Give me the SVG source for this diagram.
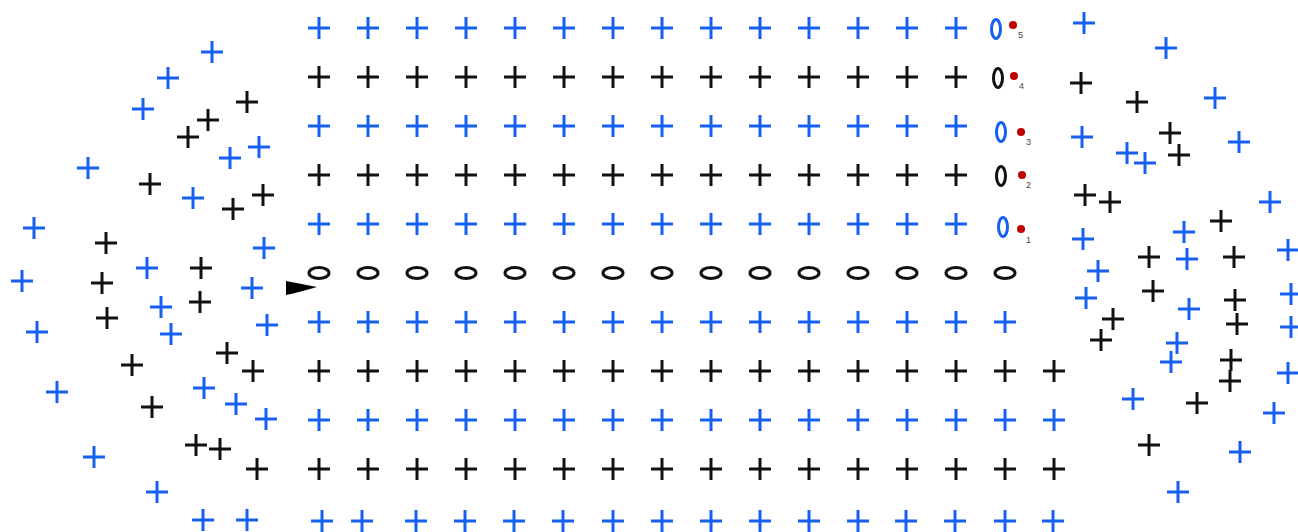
<svg xmlns="http://www.w3.org/2000/svg" xmlns:xlink="http://www.w3.org/1999/xlink" width="1298" height="532" viewBox="0 0 1298 532">
<defs>
<style>
.b{stroke:#1560f0;fill:none;stroke-width:3}
.k{stroke:#111;fill:none;stroke-width:3}
.e{fill:none;stroke-width:3}
.eb{stroke:#1560f0}
.ek{stroke:#111}
.dot{fill:#c00000}
.lbl{font-family:"Liberation Sans",Arial,sans-serif;font-size:9px;fill:#444}
</style>
<path id="p" d="M-11 0H11M0-11V11"/>
<ellipse id="ev" rx="4.5" ry="9.5"/>
<ellipse id="eh" rx="10" ry="5.5"/>
</defs>
<rect width="1298" height="532" fill="#fff"/>
<g id="grid">
<g class="b">
<use xlink:href="#p" x="319" y="28"/><use xlink:href="#p" x="368" y="28"/><use xlink:href="#p" x="417" y="28"/><use xlink:href="#p" x="466" y="28"/><use xlink:href="#p" x="515" y="28"/><use xlink:href="#p" x="564" y="28"/><use xlink:href="#p" x="613" y="28"/><use xlink:href="#p" x="662" y="28"/><use xlink:href="#p" x="711" y="28"/><use xlink:href="#p" x="760" y="28"/><use xlink:href="#p" x="809" y="28"/><use xlink:href="#p" x="858" y="28"/><use xlink:href="#p" x="907" y="28"/><use xlink:href="#p" x="956" y="28"/>
</g>
<g class="k">
<use xlink:href="#p" x="319" y="77"/><use xlink:href="#p" x="368" y="77"/><use xlink:href="#p" x="417" y="77"/><use xlink:href="#p" x="466" y="77"/><use xlink:href="#p" x="515" y="77"/><use xlink:href="#p" x="564" y="77"/><use xlink:href="#p" x="613" y="77"/><use xlink:href="#p" x="662" y="77"/><use xlink:href="#p" x="711" y="77"/><use xlink:href="#p" x="760" y="77"/><use xlink:href="#p" x="809" y="77"/><use xlink:href="#p" x="858" y="77"/><use xlink:href="#p" x="907" y="77"/><use xlink:href="#p" x="956" y="77"/>
</g>
<g class="b">
<use xlink:href="#p" x="319" y="126"/><use xlink:href="#p" x="368" y="126"/><use xlink:href="#p" x="417" y="126"/><use xlink:href="#p" x="466" y="126"/><use xlink:href="#p" x="515" y="126"/><use xlink:href="#p" x="564" y="126"/><use xlink:href="#p" x="613" y="126"/><use xlink:href="#p" x="662" y="126"/><use xlink:href="#p" x="711" y="126"/><use xlink:href="#p" x="760" y="126"/><use xlink:href="#p" x="809" y="126"/><use xlink:href="#p" x="858" y="126"/><use xlink:href="#p" x="907" y="126"/><use xlink:href="#p" x="956" y="126"/>
</g>
<g class="k">
<use xlink:href="#p" x="319" y="175"/><use xlink:href="#p" x="368" y="175"/><use xlink:href="#p" x="417" y="175"/><use xlink:href="#p" x="466" y="175"/><use xlink:href="#p" x="515" y="175"/><use xlink:href="#p" x="564" y="175"/><use xlink:href="#p" x="613" y="175"/><use xlink:href="#p" x="662" y="175"/><use xlink:href="#p" x="711" y="175"/><use xlink:href="#p" x="760" y="175"/><use xlink:href="#p" x="809" y="175"/><use xlink:href="#p" x="858" y="175"/><use xlink:href="#p" x="907" y="175"/><use xlink:href="#p" x="956" y="175"/>
</g>
<g class="b">
<use xlink:href="#p" x="319" y="224"/><use xlink:href="#p" x="368" y="224"/><use xlink:href="#p" x="417" y="224"/><use xlink:href="#p" x="466" y="224"/><use xlink:href="#p" x="515" y="224"/><use xlink:href="#p" x="564" y="224"/><use xlink:href="#p" x="613" y="224"/><use xlink:href="#p" x="662" y="224"/><use xlink:href="#p" x="711" y="224"/><use xlink:href="#p" x="760" y="224"/><use xlink:href="#p" x="809" y="224"/><use xlink:href="#p" x="858" y="224"/><use xlink:href="#p" x="907" y="224"/><use xlink:href="#p" x="956" y="224"/>
</g>
<g class="e ek">
<use xlink:href="#eh" x="319" y="273"/><use xlink:href="#eh" x="368" y="273"/><use xlink:href="#eh" x="417" y="273"/><use xlink:href="#eh" x="466" y="273"/><use xlink:href="#eh" x="515" y="273"/><use xlink:href="#eh" x="564" y="273"/><use xlink:href="#eh" x="613" y="273"/><use xlink:href="#eh" x="662" y="273"/><use xlink:href="#eh" x="711" y="273"/><use xlink:href="#eh" x="760" y="273"/><use xlink:href="#eh" x="809" y="273"/><use xlink:href="#eh" x="858" y="273"/><use xlink:href="#eh" x="907" y="273"/><use xlink:href="#eh" x="956" y="273"/><use xlink:href="#eh" x="1005" y="273"/>
</g>
<g class="b">
<use xlink:href="#p" x="319" y="322"/><use xlink:href="#p" x="368" y="322"/><use xlink:href="#p" x="417" y="322"/><use xlink:href="#p" x="466" y="322"/><use xlink:href="#p" x="515" y="322"/><use xlink:href="#p" x="564" y="322"/><use xlink:href="#p" x="613" y="322"/><use xlink:href="#p" x="662" y="322"/><use xlink:href="#p" x="711" y="322"/><use xlink:href="#p" x="760" y="322"/><use xlink:href="#p" x="809" y="322"/><use xlink:href="#p" x="858" y="322"/><use xlink:href="#p" x="907" y="322"/><use xlink:href="#p" x="956" y="322"/><use xlink:href="#p" x="1005" y="322"/>
</g>
<g class="k">
<use xlink:href="#p" x="319" y="371"/><use xlink:href="#p" x="368" y="371"/><use xlink:href="#p" x="417" y="371"/><use xlink:href="#p" x="466" y="371"/><use xlink:href="#p" x="515" y="371"/><use xlink:href="#p" x="564" y="371"/><use xlink:href="#p" x="613" y="371"/><use xlink:href="#p" x="662" y="371"/><use xlink:href="#p" x="711" y="371"/><use xlink:href="#p" x="760" y="371"/><use xlink:href="#p" x="809" y="371"/><use xlink:href="#p" x="858" y="371"/><use xlink:href="#p" x="907" y="371"/><use xlink:href="#p" x="956" y="371"/><use xlink:href="#p" x="1005" y="371"/><use xlink:href="#p" x="1054" y="371"/>
</g>
<g class="b">
<use xlink:href="#p" x="319" y="420"/><use xlink:href="#p" x="368" y="420"/><use xlink:href="#p" x="417" y="420"/><use xlink:href="#p" x="466" y="420"/><use xlink:href="#p" x="515" y="420"/><use xlink:href="#p" x="564" y="420"/><use xlink:href="#p" x="613" y="420"/><use xlink:href="#p" x="662" y="420"/><use xlink:href="#p" x="711" y="420"/><use xlink:href="#p" x="760" y="420"/><use xlink:href="#p" x="809" y="420"/><use xlink:href="#p" x="858" y="420"/><use xlink:href="#p" x="907" y="420"/><use xlink:href="#p" x="956" y="420"/><use xlink:href="#p" x="1005" y="420"/><use xlink:href="#p" x="1054" y="420"/>
</g>
<g class="k">
<use xlink:href="#p" x="319" y="469"/><use xlink:href="#p" x="368" y="469"/><use xlink:href="#p" x="417" y="469"/><use xlink:href="#p" x="466" y="469"/><use xlink:href="#p" x="515" y="469"/><use xlink:href="#p" x="564" y="469"/><use xlink:href="#p" x="613" y="469"/><use xlink:href="#p" x="662" y="469"/><use xlink:href="#p" x="711" y="469"/><use xlink:href="#p" x="760" y="469"/><use xlink:href="#p" x="809" y="469"/><use xlink:href="#p" x="858" y="469"/><use xlink:href="#p" x="907" y="469"/><use xlink:href="#p" x="956" y="469"/><use xlink:href="#p" x="1005" y="469"/><use xlink:href="#p" x="1054" y="469"/>
</g>
<g class="b">
<use xlink:href="#p" x="322" y="521"/><use xlink:href="#p" x="362" y="521"/><use xlink:href="#p" x="416" y="521"/><use xlink:href="#p" x="465" y="521"/><use xlink:href="#p" x="514" y="521"/><use xlink:href="#p" x="563" y="521"/><use xlink:href="#p" x="613" y="521"/><use xlink:href="#p" x="662" y="521"/><use xlink:href="#p" x="711" y="521"/><use xlink:href="#p" x="760" y="521"/><use xlink:href="#p" x="809" y="521"/><use xlink:href="#p" x="858" y="521"/><use xlink:href="#p" x="906" y="521"/><use xlink:href="#p" x="955" y="521"/><use xlink:href="#p" x="1005" y="521"/><use xlink:href="#p" x="1053" y="521"/>
</g>
</g>
<g id="markers">
<use xlink:href="#ev" class="e eb" x="996" y="29"/>
<use xlink:href="#ev" class="e ek" x="998" y="78"/>
<use xlink:href="#ev" class="e eb" x="1001" y="132"/>
<use xlink:href="#ev" class="e ek" x="1001" y="176"/>
<use xlink:href="#ev" class="e eb" x="1003" y="227"/>
<circle class="dot" cx="1013" cy="25" r="4"/>
<circle class="dot" cx="1014" cy="76" r="4"/>
<circle class="dot" cx="1021" cy="132" r="4"/>
<circle class="dot" cx="1022" cy="175" r="4"/>
<circle class="dot" cx="1021" cy="229" r="4"/>
<text class="lbl" x="1018" y="38">5</text>
<text class="lbl" x="1019" y="89">4</text>
<text class="lbl" x="1026" y="145">3</text>
<text class="lbl" x="1026" y="188">2</text>
<text class="lbl" x="1026" y="243">1</text>
<path d="M286,281 L317,287 Q300,292 286,295 Z" fill="#000"/>
</g>
<g id="left-scatter">
<g class="b">
<use xlink:href="#p" x="212" y="52"/><use xlink:href="#p" x="168" y="78"/><use xlink:href="#p" x="143" y="109"/><use xlink:href="#p" x="259" y="147"/><use xlink:href="#p" x="230" y="158"/><use xlink:href="#p" x="88" y="168"/><use xlink:href="#p" x="193" y="198"/><use xlink:href="#p" x="34" y="228"/><use xlink:href="#p" x="264" y="248"/><use xlink:href="#p" x="147" y="268"/><use xlink:href="#p" x="22" y="281"/><use xlink:href="#p" x="252" y="288"/><use xlink:href="#p" x="161" y="307"/><use xlink:href="#p" x="267" y="325"/><use xlink:href="#p" x="37" y="332"/><use xlink:href="#p" x="171" y="334"/><use xlink:href="#p" x="57" y="392"/><use xlink:href="#p" x="204" y="388"/><use xlink:href="#p" x="236" y="404"/><use xlink:href="#p" x="266" y="419"/><use xlink:href="#p" x="94" y="457"/><use xlink:href="#p" x="157" y="492"/><use xlink:href="#p" x="203" y="520"/><use xlink:href="#p" x="247" y="520"/>
</g>
<g class="k">
<use xlink:href="#p" x="247" y="102"/><use xlink:href="#p" x="208" y="120"/><use xlink:href="#p" x="188" y="137"/><use xlink:href="#p" x="150" y="184"/><use xlink:href="#p" x="263" y="195"/><use xlink:href="#p" x="233" y="209"/><use xlink:href="#p" x="106" y="243"/><use xlink:href="#p" x="201" y="268"/><use xlink:href="#p" x="102" y="283"/><use xlink:href="#p" x="200" y="302"/><use xlink:href="#p" x="107" y="318"/><use xlink:href="#p" x="227" y="353"/><use xlink:href="#p" x="253" y="371"/><use xlink:href="#p" x="132" y="365"/><use xlink:href="#p" x="152" y="407"/><use xlink:href="#p" x="196" y="445"/><use xlink:href="#p" x="220" y="449"/><use xlink:href="#p" x="257" y="469"/>
</g>
</g>
<g id="right-scatter">
<g class="b">
<use xlink:href="#p" x="1084" y="23"/><use xlink:href="#p" x="1166" y="48"/><use xlink:href="#p" x="1215" y="98"/><use xlink:href="#p" x="1082" y="137"/><use xlink:href="#p" x="1239" y="142"/><use xlink:href="#p" x="1127" y="153"/><use xlink:href="#p" x="1145" y="163"/><use xlink:href="#p" x="1270" y="202"/><use xlink:href="#p" x="1083" y="239"/><use xlink:href="#p" x="1184" y="232"/><use xlink:href="#p" x="1288" y="250"/><use xlink:href="#p" x="1187" y="259"/><use xlink:href="#p" x="1098" y="271"/><use xlink:href="#p" x="1086" y="298"/><use xlink:href="#p" x="1291" y="294"/><use xlink:href="#p" x="1189" y="309"/><use xlink:href="#p" x="1291" y="327"/><use xlink:href="#p" x="1177" y="343"/><use xlink:href="#p" x="1171" y="362"/><use xlink:href="#p" x="1288" y="373"/><use xlink:href="#p" x="1133" y="399"/><use xlink:href="#p" x="1274" y="413"/><use xlink:href="#p" x="1240" y="452"/><use xlink:href="#p" x="1178" y="492"/>
</g>
<g class="k">
<use xlink:href="#p" x="1081" y="83"/><use xlink:href="#p" x="1137" y="102"/><use xlink:href="#p" x="1170" y="133"/><use xlink:href="#p" x="1179" y="155"/><use xlink:href="#p" x="1085" y="195"/><use xlink:href="#p" x="1110" y="202"/><use xlink:href="#p" x="1221" y="221"/><use xlink:href="#p" x="1149" y="257"/><use xlink:href="#p" x="1234" y="257"/><use xlink:href="#p" x="1153" y="291"/><use xlink:href="#p" x="1235" y="300"/><use xlink:href="#p" x="1113" y="319"/><use xlink:href="#p" x="1237" y="324"/><use xlink:href="#p" x="1101" y="340"/><use xlink:href="#p" x="1231" y="360"/><use xlink:href="#p" x="1230" y="381"/><use xlink:href="#p" x="1197" y="403"/><use xlink:href="#p" x="1149" y="445"/>
</g>
</g>
</svg>
